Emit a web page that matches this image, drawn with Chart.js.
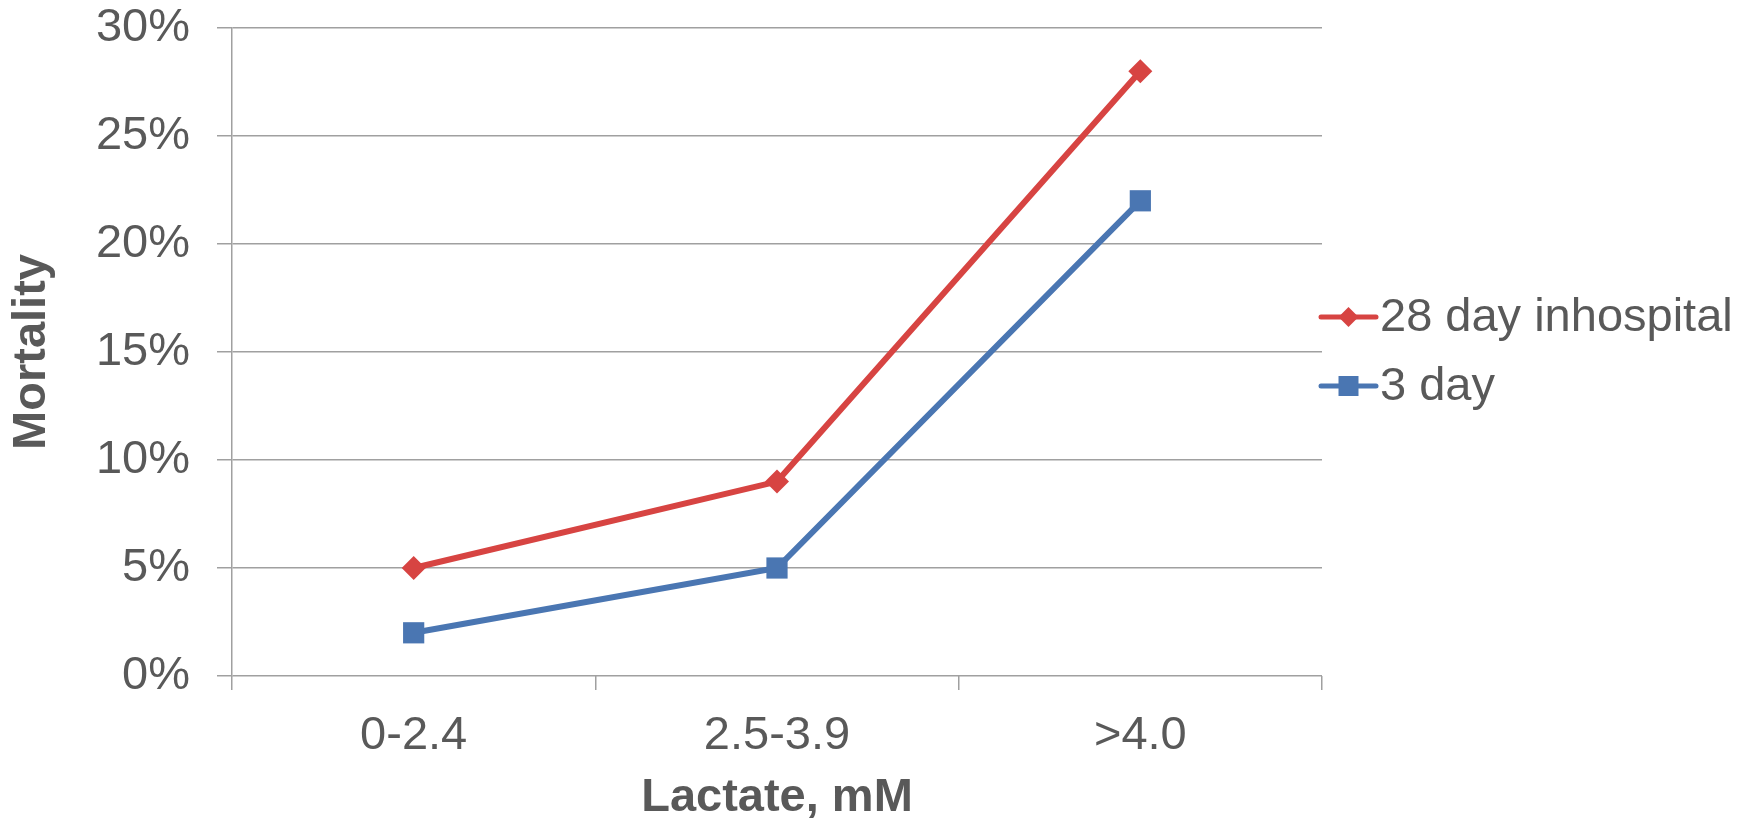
<!DOCTYPE html>
<html>
<head>
<meta charset="utf-8">
<script src="https://cdn.jsdelivr.net/npm/chart.js@4"></script>
<style>
  html, body { margin: 0; padding: 0; background: #fff; }
  #wrap { width: 1758px; height: 822px; }
</style>
</head>
<body>
<div id="wrap"><canvas id="chart" width="1758" height="822"></canvas></div>
<script>
// data
const categories = ["0-2.4", "2.5-3.9", ">4.0"];
const mortality28day = [5, 9, 28];
const mortality3day = [2, 5, 22];
const yTicks = [0, 5, 10, 15, 20, 25, 30];

const textColor = '#595959';
const gridColor = '#a0a0a0';
const red = '#D74442';
const blue = '#4A76B2';
const fontFamily = '"Liberation Sans", Arial, sans-serif';

// legend drawn like excel: short line with the marker on it
const excelLegend = {
  id: 'excelLegend',
  afterDraw(chart) {
    const ctx = chart.ctx;
    const items = chart.data.datasets;
    ctx.save();
    items.forEach((ds, i) => {
      const y = 317 + i * 69;
      const x0 = 1321, x1 = 1376, cx = (x0 + x1) / 2;
      ctx.strokeStyle = ds.borderColor;
      ctx.lineWidth = 5;
      ctx.lineCap = 'round';
      ctx.beginPath();
      ctx.moveTo(x0, y);
      ctx.lineTo(x1, y);
      ctx.stroke();
      ctx.fillStyle = ds.backgroundColor;
      ctx.beginPath();
      if (ds.pointStyle === 'rect') {
        ctx.rect(cx - 10, y - 10, 20, 20);
      } else {
        ctx.moveTo(cx, y - 10);
        ctx.lineTo(cx + 10, y);
        ctx.lineTo(cx, y + 10);
        ctx.lineTo(cx - 10, y);
        ctx.closePath();
      }
      ctx.fill();
      ctx.fillStyle = textColor;
      ctx.font = '47px ' + fontFamily;
      ctx.textBaseline = 'middle';
      ctx.textAlign = 'left';
      ctx.fillText(ds.label, 1380, y + 1);
    });
    ctx.restore();
  }
};

new Chart(document.getElementById('chart'), {
  type: 'line',
  data: {
    labels: categories,
    datasets: [{
      label: '28 day inhospital',
      data: mortality28day,
      borderColor: red,
      backgroundColor: red,
      borderWidth: 6,
      pointStyle: 'rectRot',
      pointRadius: 12,
      pointBorderWidth: 0,
      tension: 0
    }, {
      label: '3 day',
      data: mortality3day,
      borderColor: blue,
      backgroundColor: blue,
      borderWidth: 6,
      pointStyle: 'rect',
      pointRadius: 15,
      pointBorderWidth: 0,
      tension: 0
    }]
  },
  options: {
    responsive: false,
    animation: false,
    layout: { padding: { top: 28, right: 436, left: 0, bottom: 0 } },
    plugins: {
      legend: { display: false },
      tooltip: { enabled: false }
    },
    scales: {
      x: {
        offset: true,
        grid: {
          offset: true,
          drawOnChartArea: false,
          drawTicks: true,
          tickLength: 14,
          color: gridColor,
          lineWidth: 1.5
        },
        border: { display: false },
        ticks: {
          color: textColor,
          padding: 18,
          font: { family: fontFamily, size: 47 }
        },
        title: {
          display: true,
          text: 'Lactate, mM',
          color: textColor,
          padding: { top: 0, bottom: 0 },
          font: { family: fontFamily, size: 47, weight: 'bold', lineHeight: 1.0 }
        },
        afterFit(scale) {
          scale.height = 146;
          scale.paddingLeft = 0;
          scale.paddingRight = 0;
        }
      },
      y: {
        min: 0,
        max: 30,
        afterBuildTicks(scale) { scale.ticks = yTicks.map(v => ({ value: v })); },
        grid: {
          color: gridColor,
          lineWidth: 1.5,
          tickLength: 15
        },
        border: { display: true, color: gridColor, width: 1.5 },
        ticks: {
          color: textColor,
          padding: 27,
          font: { family: fontFamily, size: 47 },
          callback: v => v + '%'
        },
        title: {
          display: true,
          text: 'Mortality',
          color: textColor,
          padding: { top: 4, bottom: 4 },
          font: { family: fontFamily, size: 47, weight: 'bold', lineHeight: 1.2 }
        },
        afterFit(scale) {
          scale.width = 232;
          scale.paddingTop = 0;
          scale.paddingBottom = 0;
        }
      }
    }
  },
  plugins: [excelLegend]
});
</script>
</body>
</html>
